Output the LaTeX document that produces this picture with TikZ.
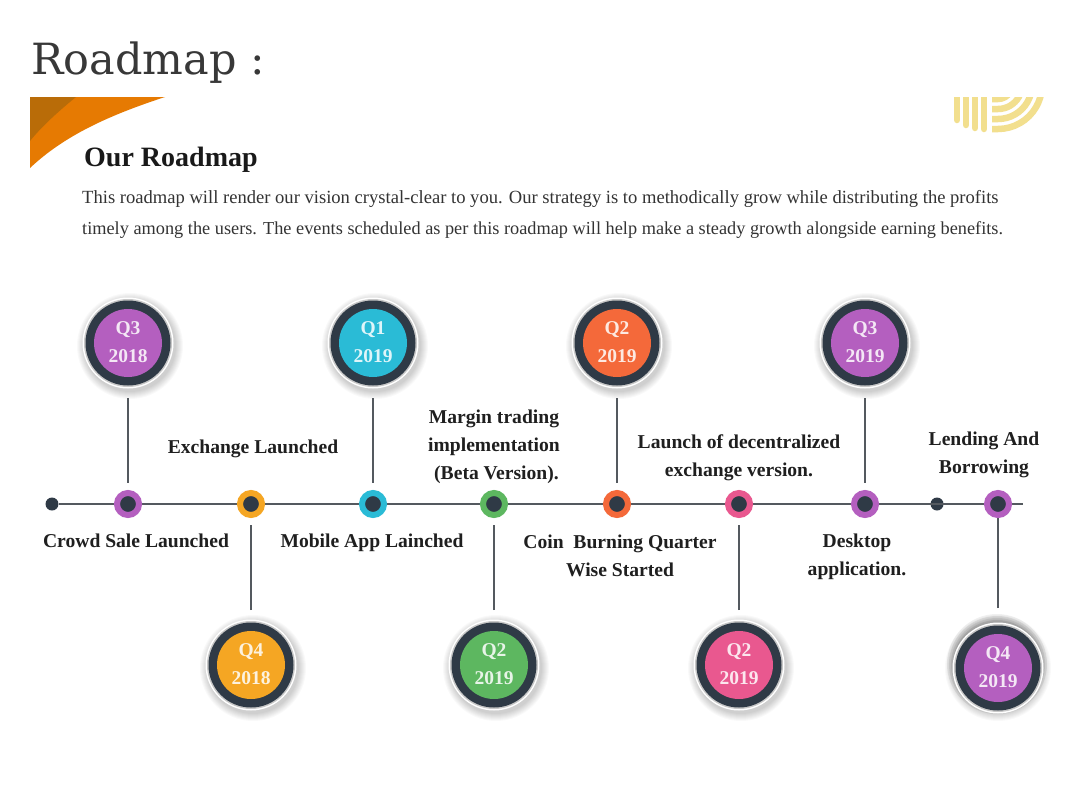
\documentclass[tikz,border=0pt]{standalone}
\usepackage{fontspec}
\setmainfont{Liberation Serif}
\newfontfamily\titlefont{DejaVu Serif}
\definecolor{ringdark}{HTML}{2F3A46}
\definecolor{axisgrey}{HTML}{54595F}
\definecolor{cpurple}{HTML}{B45FBF}
\definecolor{corange}{HTML}{F5A623}
\definecolor{ccyan}{HTML}{2ABBD6}
\definecolor{cgreen}{HTML}{5DB760}
\definecolor{cred}{HTML}{F4693A}
\definecolor{cpink}{HTML}{E9588F}
\definecolor{hdark}{HTML}{B96C08}
\definecolor{hor}{HTML}{E67A02}
\definecolor{yel}{HTML}{F2DF8E}
\tikzset{
  x=1pt,y=-1pt,
  bigdisc/.style={circle,inner sep=0pt,outer sep=0pt,minimum size=68pt,fill=#1,text=white!85!#1,font=\fontsize{19.5}{28}\selectfont\bfseries,align=center},
  smalldisc/.style={circle,inner sep=0pt,minimum size=22pt,fill=ringdark,draw=#1,line width=6pt},
  enddot/.style={circle,inner sep=0pt,minimum size=13pt,fill=ringdark},
  lbl/.style={font=\fontsize{19.6}{28}\selectfont\bfseries,text=black!88,align=center,inner sep=0pt},
  para/.style={text=black!80,anchor=base west,inner sep=0pt},
  axisline/.style={draw=axisgrey,line width=2pt},
  stem/.style={draw=axisgrey,line width=2pt,shorten >=7pt,shorten <=21pt},
}
\newcommand{\halo}[4]{%
  \foreach \r in {53,52,51,50,49,48,47,46}{\fill[black,opacity=.022] (#1+#3,#2+#4) circle[radius=\r];}
  \fill[white] (#1,#2) circle[radius=45.5];
  \fill[black!22] (#1,#2) circle[radius=44];
  \fill[ringdark] (#1,#2) circle[radius=42.5];
}
\newcommand{\twolines}[2]{\raisebox{2.5pt}{#1}\\\raisebox{2.5pt}{#2}}
\begin{document}
\begin{tikzpicture}
\useasboundingbox (0,0) rectangle (1080,790);
\fill[white] (0,0) rectangle (1080,790);
% title
\node[anchor=base west,inner sep=0pt,text=black!78] (title) at (31,74) {\titlefont\fontsize{43}{43}\selectfont Roadmap :};
% corner
\fill[hor] (30,97) -- (165,97) .. controls (110,115) and (65,135) .. (30,168) -- cycle;
\fill[hdark] (30,97) -- (76,97) .. controls (60,110) and (42,126) .. (30,141) -- cycle;
% yellow mark
\begin{scope}
\clip (945,97) rectangle (1050,140);
\foreach \xx/\yy in {957/120,966/125,975/128,984/129}{\draw[yel,line width=6.5pt,line cap=round] (\xx,90) -- (\xx,\yy);}
\foreach \r in {14,24,34,44}{\draw[yel,line width=6.5pt] (992,85+\r) -- (998,85+\r) arc[start angle=90,end angle=-20,radius=\r];}
\end{scope}
% heading
\node[anchor=base west,inner sep=0pt,font=\fontsize{28}{28}\selectfont\bfseries,text=black!90] (head) at (84,166) {Our Roadmap};
\node[para,font=\fontsize{18.58}{18.58}\selectfont] (p1) at (82,203) {This roadmap will render our vision crystal-clear to you. Our strategy is to methodically grow while distributing the profits};
\node[para,font=\fontsize{18.3}{18.3}\selectfont] (p2) at (82,234) {timely among the users. The events scheduled as per this roadmap will help make a steady growth alongside earning benefits.};
% axis
\node[enddot] (s0) at (52,504) {};
\node[enddot] (d1) at (937,504) {};
\coordinate (axisend) at (1023,504);
\draw[axisline] (s0) -- (axisend);
% halos
\halo{128}{343}{2}{3}\halo{251}{665}{2}{3}\halo{373}{343}{2}{3}\halo{494}{665}{2}{3}\halo{617}{343}{2}{3}\halo{739}{665}{2}{3}\halo{865}{343}{2}{3}
\foreach \r in {50,48,46,44}{\fill[black,opacity=.06] (997,664) circle[radius=\r];}
\halo{998}{668}{0}{0}
% big discs
\node[bigdisc=cpurple] (b1) at (128,343) {\twolines{Q3}{2018}};
\node[bigdisc=corange] (b2) at (251,665) {\twolines{Q4}{2018}};
\node[bigdisc=ccyan]   (b3) at (373,343) {\twolines{Q1}{2019}};
\node[bigdisc=cgreen]  (b4) at (494,665) {\twolines{Q2}{2019}};
\node[bigdisc=cred]    (b5) at (617,343) {\twolines{Q2}{2019}};
\node[bigdisc=cpink]   (b6) at (739,665) {\twolines{Q2}{2019}};
\node[bigdisc=cpurple] (b7) at (865,343) {\twolines{Q3}{2019}};
\node[bigdisc=cpurple] (b8) at (998,668) {\twolines{Q4}{2019}};
% small discs
\node[smalldisc=cpurple] (t1) at (128,504) {};
\node[smalldisc=corange] (t2) at (251,504) {};
\node[smalldisc=ccyan]   (t3) at (373,504) {};
\node[smalldisc=cgreen]  (t4) at (494,504) {};
\node[smalldisc=cred]    (t5) at (617,504) {};
\node[smalldisc=cpink]   (t6) at (739,504) {};
\node[smalldisc=cpurple] (t7) at (865,504) {};
\node[smalldisc=cpurple] (t8) at (998,504) {};
% stems
\draw[stem] (b1) -- (t1);
\draw[stem] (b3) -- (t3);
\draw[stem] (b5) -- (t5);
\draw[stem] (b7) -- (t7);
\draw[stem] (b2) -- (t2);
\draw[stem] (b4) -- (t4);
\draw[stem] (b6) -- (t6);
\draw[axisline,shorten <=26pt] (b8) -- (t8);
% labels
\node[lbl] (l1) at (136,541) {Crowd Sale Launched};
\node[lbl] (l2) at (253,449) {Exchange Launched};
\node[lbl] (l3) at (372,543) {Mobile App Lainched};
\node[lbl] (l4) at (494,447) {Margin trading\\implementation\\\ (Beta Version).};
\node[lbl] (l5) at (620,556) {Coin\ \ Burning Quarter\\Wise Started};
\node[lbl] (l6) at (739,458) {Launch of decentralized\\exchange version.};
\node[lbl] (l7) at (857,557) {Desktop\\application.};
\node[lbl] (l8) at (984,455) {Lending And\\Borrowing};
\end{tikzpicture}
\end{document}
